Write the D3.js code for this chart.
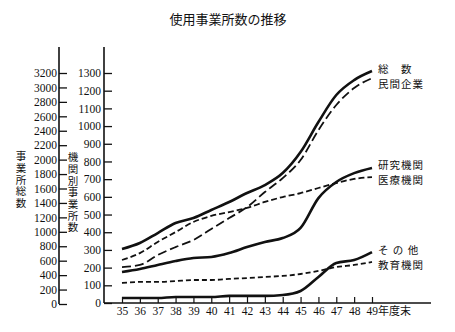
<!DOCTYPE html>
<html><head><meta charset="utf-8">
<script src="https://cdn.jsdelivr.net/npm/d3@7"></script>
<style>
body{margin:0;background:#fff;}
svg{display:block;}
.num{font-family:"Liberation Serif","Noto Sans CJK JP",serif;font-size:11.5px;fill:#111;}
.jp{font-family:"Noto Sans CJK JP",sans-serif;fill:#111;}
</style></head>
<body>
<svg id="c" width="455" height="332"></svg>
<script>
// ---- data ----
const years = [35,36,37,38,39,40,41,42,43,44,45,46,47,48,49];
const totalTicks = [0,200,400,600,800,1000,1200,1400,1600,1800,2000,2200,2400,2600,2800,3000,3200];
const orgTicks = [0,100,200,300,400,500,600,700,800,900,1000,1100,1200,1300];
const total    = [762,845,983,1122,1191,1302,1413,1537,1648,1814,2105,2521,2895,3102,3227]; // 総数 (left axis)
const privateCo= [203,215,271,316,356,418,480,542,627,706,808,977,1119,1215,1271]; // 民間企業
const research = [175,192,215,237,254,260,282,316,345,367,424,593,684,734,763];     // 研究機関
const medical  = [243,282,345,401,458,492,514,537,571,599,621,650,678,701,712];     // 医療機関
const education= [113,119,119,124,130,130,136,141,147,153,164,181,203,215,232];     // 教育機関
const other    = [28,28,28,34,34,34,40,40,40,45,68,147,226,243,288];                // その他

const svg = d3.select("#c");
const x = d3.scalePoint().domain(years).range([122,372]);
const yL = d3.scaleLinear().domain([0,3200]).range([304,73]);
const yR = d3.scaleLinear().domain([0,1300]).range([303,73]);
const fmt = d3.format("d");

// title
svg.append("text").attr("class","jp").attr("x",228).attr("y",24)
  .attr("text-anchor","middle").style("font-size","13px").text("使用事業所数の推移");

// left axis (総数)
const gL = svg.append("g").attr("transform","translate(59,0)")
  .call(d3.axisLeft(yL).tickValues(totalTicks).tickFormat(fmt).tickSizeInner(-8).tickSizeOuter(0).tickPadding(2));
gL.select(".domain").remove();
gL.selectAll("text").attr("class","num").attr("font-family",null).attr("font-size",null);
gL.selectAll("line").attr("stroke","#111").attr("stroke-width",1.3);
svg.append("line").attr("x1",59).attr("x2",59).attr("y1",47).attr("y2",yL(0))
  .attr("stroke","#111").attr("stroke-width",1.6);

// right axis (機関別)
const gR = svg.append("g").attr("transform","translate(104,0)")
  .call(d3.axisLeft(yR).tickValues(orgTicks).tickFormat(fmt).tickSizeInner(-8).tickSizeOuter(0).tickPadding(3));
gR.select(".domain").remove();
gR.selectAll("text").attr("class","num").attr("font-family",null).attr("font-size",null);
gR.selectAll("line").attr("stroke","#111").attr("stroke-width",1.3);
svg.append("line").attr("x1",104).attr("x2",104).attr("y1",47).attr("y2",yR(0))
  .attr("stroke","#111").attr("stroke-width",1.6);

// x axis
const gX = svg.append("g").attr("transform",`translate(0,${yR(0)})`)
  .call(d3.axisBottom(x).tickFormat(fmt).tickSizeInner(-6).tickSizeOuter(0).tickPadding(4));
gX.select(".domain").remove();
gX.selectAll("text").attr("class","num").attr("font-family",null).attr("font-size",null);
gX.selectAll("line").attr("stroke","#111").attr("stroke-width",1.2);
svg.append("line").attr("x1",104).attr("x2",431).attr("y1",yR(0)).attr("y2",yR(0))
  .attr("stroke","#111").attr("stroke-width",1.6);
gX.selectAll(".tick").filter(d=>d===49).select("text")
  .attr("text-anchor","start").attr("x",-6)
  .html('49<tspan style="font-family:Noto Sans CJK JP;font-size:11px">年度末</tspan>');

// axis titles (vertical)
function vtext(str, cx, y0){
  svg.append("text").attr("class","jp").attr("x",cx).attr("y",y0)
    .style("writing-mode","vertical-rl").style("font-size","10.5px")
    .style("letter-spacing","1.2px").text(str);
}
vtext("事業所総数",21,151);
vtext("機関別事業所数",73,152);

// lines
const series = [
  {vals:total, scale:yL, dash:null, w:2.6},
  {vals:privateCo, scale:yR, dash:"9,4", w:1.8},
  {vals:research, scale:yR, dash:null, w:2.6},
  {vals:medical, scale:yR, dash:"6,3", w:1.8},
  {vals:education, scale:yR, dash:"5,3", w:1.8},
  {vals:other, scale:yR, dash:null, w:2.6}
];
series.forEach(s=>{
  const line = d3.line().x((d,i)=>x(years[i])).y(d=>s.scale(d)).curve(d3.curveMonotoneX);
  svg.append("path").datum(s.vals).attr("d",line).attr("fill","none")
    .attr("stroke","#111").attr("stroke-width",s.w)
    .attr("stroke-dasharray",s.dash).attr("stroke-linejoin","round");
});

// series labels
const labels = [["総　数",68],["民間企業",83],["研究機関",164],["医療機関",179],["そ の 他",249],["教育機関",264]];
labels.forEach(([t,y])=>{
  svg.append("text").attr("class","jp").attr("x",378).attr("y",y)
    .attr("dominant-baseline","central").style("font-size","10.5px")
    .style("letter-spacing","1px").text(t);
});
</script>
</body></html>
